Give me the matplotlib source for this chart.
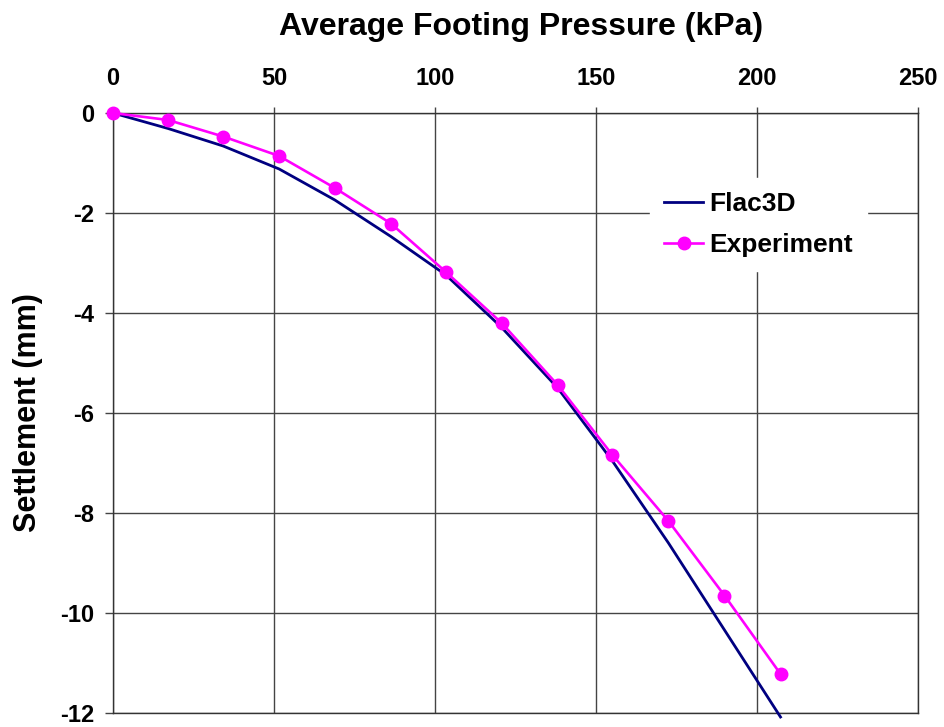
import matplotlib
matplotlib.use("Agg")
import matplotlib.pyplot as plt

# Data
pressure = [0, 17.1, 34.2, 51.6, 68.9, 86.3, 103.4, 120.7, 138.1, 155.1, 172.5, 189.9, 207.3]
exp_settlement = [0, -0.14, -0.47, -0.86, -1.50, -2.21, -3.18, -4.20, -5.44, -6.84, -8.16, -9.65, -11.22]
flac_settlement = [0, -0.31, -0.66, -1.12, -1.74, -2.47, -3.24, -4.29, -5.50, -6.96, -8.60, -10.34, -12.08]
xticks = [0, 50, 100, 150, 200, 250]
yticks = [0, -2, -4, -6, -8, -10, -12]

plt.rcParams['font.family'] = ['Liberation Sans', 'DejaVu Sans']
plt.rcParams['font.weight'] = 'bold'
plt.rcParams['axes.unicode_minus'] = False

fig = plt.figure(figsize=(9.45, 7.27), dpi=100)
ax = fig.add_axes([113/945, 1 - 713/727, 805/945, 600/727])

ax.plot(pressure, flac_settlement, color='#000080', lw=2.0, label='Flac3D', clip_on=False, zorder=3)
ax.plot(pressure, exp_settlement, color='#FF00FF', lw=1.9, marker='o', ms=9,
        label='Experiment', clip_on=False, zorder=4)

ax.set_xlim(0, 250)
ax.set_ylim(-12, 0)
ax.set_xticks(xticks)
ax.set_yticks(yticks)
ax.xaxis.tick_top()
ax.tick_params(axis='x', which='both', top=True, bottom=False, direction='out',
               length=4.5, width=1, color='#444444', pad=12, labelsize=17)
ax.tick_params(axis='y', direction='out', length=5.5, width=1, color='#444444',
               pad=8, labelsize=17)
for lbl in ax.get_xticklabels() + ax.get_yticklabels():
    lbl.set_fontweight('bold')

ax.grid(True, color='#444444', lw=1.0)
for s in ax.spines.values():
    s.set_color('#333333')
    s.set_linewidth(1.0)

fig.text(521/945, 1 - 27/727, 'Average Footing Pressure (kPa)', ha='center', va='center',
         fontsize=23, fontweight='bold')
fig.text(28/945, 1 - 413/727, 'Settlement (mm)', ha='center', va='center', rotation=90,
         fontsize=22, fontweight='bold')

leg = ax.legend(loc='upper left', bbox_to_anchor=(0.667, 0.8917), frameon=True,
                fancybox=False, fontsize=19, handlelength=1.45, handletextpad=0.25,
                labelspacing=0.62, borderpad=0.55, borderaxespad=0)
leg.get_frame().set_edgecolor('white')
leg.get_frame().set_facecolor('white')
leg.get_frame().set_alpha(1)
for t in leg.get_texts():
    t.set_fontweight('bold')

fig.savefig('out.png', dpi=100)
